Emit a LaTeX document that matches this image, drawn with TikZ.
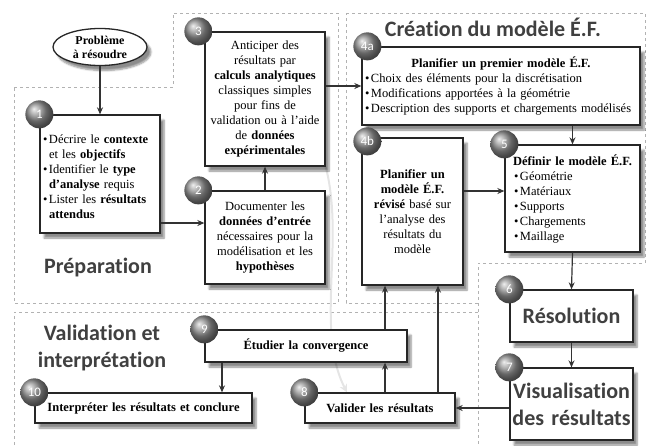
\documentclass[tikz,border=0pt]{standalone}
\usepackage{fontspec}
\setmainfont{Liberation Serif}
\newfontfamily\titlefont[Ligatures=NoCommon]{Carlito}
\usetikzlibrary{arrows.meta,shapes,shadows,shadows.blur,backgrounds,calc}
\newcommand\puce{\par\noindent\hangindent=6pt\hangafter=1\makebox[6pt][l]{\textbullet}}

\begin{document}
\begin{tikzpicture}[x=1pt,y=-1pt,
  every node/.style={font=\fontsize{12.5}{15}\selectfont},
  box/.style={draw=black!85, line width=1.3pt, fill=white, inner sep=3pt, align=center,
    blur shadow={shadow xshift=4pt, shadow yshift=-5pt, shadow blur steps=6, shadow opacity=45}},
  badge/.style={circle, ball color=gray!85, minimum size=28pt, inner sep=0pt, text=white,
    font=\titlefont\fontsize{13}{13}\selectfont},
  titre/.style={font=\titlefont\bfseries\fontsize{22}{27}\selectfont, text=black!75, align=center},
  zone/.style={draw=gray!60, dashed, line width=1pt},
  arr/.style={-{Stealth[length=7pt,width=6pt]}, line width=1.2pt, draw=black!80},
  ghost/.style={-{Stealth[length=8pt,width=8pt]}, line width=2pt, draw=gray!20}]
  \useasboundingbox (0,0) rectangle (651,445);

  \node[ellipse, draw=black!85, line width=1.3pt, fill=white, minimum width=94pt, minimum height=37pt,
    inner sep=1pt, align=center, font=\bfseries\fontsize{12}{14}\selectfont,
    blur shadow={shadow xshift=4pt, shadow yshift=-5pt, shadow blur steps=6, shadow opacity=45}]
    (prob) at (100,47) {Problème\\à résoudre};

  \node[box, align=left, minimum width=120pt, text width=114pt, minimum height=118pt] (b1) at (100,174)
    {\puce Décrire le \textbf{contexte}\newline et les \textbf{objectifs}\puce Identifier le \textbf{type}\newline\textbf{d'analyse} requis\puce Lister les \textbf{résultats}\newline\textbf{attendus}\par};
  \node[box, minimum width=120pt, text width=114pt, minimum height=134pt] (b3) at (265,99)
    {Anticiper des\\résultats par\\\textbf{calculs analytiques}\\classiques simples\\pour fins de\\validation ou à l'aide\\de \textbf{données}\\\textbf{expérimentales}};
  \node[box, minimum width=120pt, text width=114pt, minimum height=93pt] (b2) at (265,237.5)
    {Documenter les\\\textbf{données d'entrée}\\nécessaires pour la\\modélisation et les\\\textbf{hypothèses}};
  \node[box, align=left, minimum width=278pt, text width=272pt, minimum height=78pt] (b4a) at (501,86)
    {{\centering\textbf{Planifier un premier modèle É.F.}\par}\puce Choix des éléments pour la discrétisation\puce Modifications apportées à la géométrie\puce Description des supports et chargements modélisés\par};
  \node[box, minimum width=101pt, text width=95pt, minimum height=147pt] (b4b) at (412.5,211.5)
    {\textbf{Planifier un}\\\textbf{modèle É.F.}\\\textbf{révisé} basé sur\\l'analyse des\\résultats du\\modèle};
  \node[box, align=left, minimum width=135pt, text width=129pt, minimum height=107pt] (b5) at (572.5,198.5)
    {{\centering\textbf{Définir le modèle É.F.}\par}\leftskip=6pt\puce Géométrie\puce Matériaux\puce Supports\puce Chargements\puce Maillage\par};
  \node[box, minimum width=123pt, text width=119pt, inner sep=2pt, minimum height=52pt, font=\titlefont\bfseries\fontsize{22}{27}\selectfont, text=black!75] (b6) at (571.5,316) {Résolution};
  \node[box, minimum width=123pt, text width=119pt, inner sep=2pt, minimum height=72pt, font=\titlefont\bfseries\fontsize{22}{27}\selectfont, text=black!75] (b7) at (571.5,404) {Visualisation\\des résultats};
  \node[box, minimum width=150pt, text width=144pt, minimum height=30pt, font=\bfseries\fontsize{12.5}{15}\selectfont] (b8) at (380,408) {Valider les résultats};
  \node[box, minimum width=202pt, text width=196pt, minimum height=32pt, font=\bfseries\fontsize{12.5}{15}\selectfont] (b9) at (306,346) {Étudier la convergence};
  \node[box, minimum width=217pt, text width=211pt, minimum height=30pt, font=\bfseries\fontsize{12.5}{15}\selectfont] (b10) at (143.5,408) {Interpréter les résultats et conclure};

  \node[titre] (tcreation) at (493,27) {Création du modèle É.F.};
  \node[titre] (tprep) at (98,268) {Préparation};
  \node[titre] (tvalid) at (102,348) {Validation et\\interprétation};

  \node[badge] (p1) at (b1.north west) {1};
  \node[badge] (p2) at ([xshift=-6pt]b2.north west) {2};
  \node[badge] (p3) at ([xshift=-6pt]b3.north west) {3};
  \node[badge] (p4a) at ([xshift=6pt]b4a.north west) {4a};
  \node[badge] (p4b) at ([xshift=6pt,yshift=-4pt]b4b.north west) {4b};
  \node[badge] (p5) at (b5.north west) {5};
  \node[badge] (p6) at (b6.north west) {6};
  \node[badge] (p7) at (b7.north west) {7};
  \node[badge] (p8) at (b8.north west) {8};
  \node[badge] (p9) at (b9.north west) {9};
  \node[badge] (p10) at (b10.north west) {10};

  \draw[arr] (prob.south) -- (b1.north);
  \draw[arr] (b1.east |- 0,223) -- (b2.west |- 0,223);
  \draw[arr] (b2.north) -- (b3.south);
  \draw[arr] (b3.east |- b4a.west) -- (b4a.west);
  \draw[arr] (b4a.south -| b5.north) -- (b5.north);
  \draw[arr] (b4b.east |- 0,191) -- (b5.west |- 0,191);
  \draw[arr] (b5.south) -- (b6.north);
  \draw[arr] (b6.south) -- (b7.north);
  \draw[arr] (b7.west |- b8.east) -- (b8.east);
  \draw[arr] (b8.north -| 385,0) -- (b9.south -| 385,0);
  \draw[arr] (b9.north -| 385,0) -- (b4b.south -| 385,0);
  \draw[arr] (b8.north -| 438,0) -- (b4b.south -| 438,0);
  \draw[arr] (b9.south -| 222,0) -- (b10.north -| 222,0);

  \begin{scope}[on background layer]
    \draw[zone] (14,87) -- (173,87) -- (173,13) -- (338,13) -- (338,303) -- (14,303) -- cycle;
    \draw[zone] (346,13) -- (645,13) -- (645,263) -- (478,263) -- (478,303) -- (346,303) -- cycle;
    \draw[zone] (478,303) -- (478,445);
    \draw[zone] (14,445) -- (14,312) -- (478,312);
    \draw[ghost] (b3.south east) .. controls (345,240) and (315,330) .. (b8.north -| 347,0);
  \end{scope}
\end{tikzpicture}
\end{document}
